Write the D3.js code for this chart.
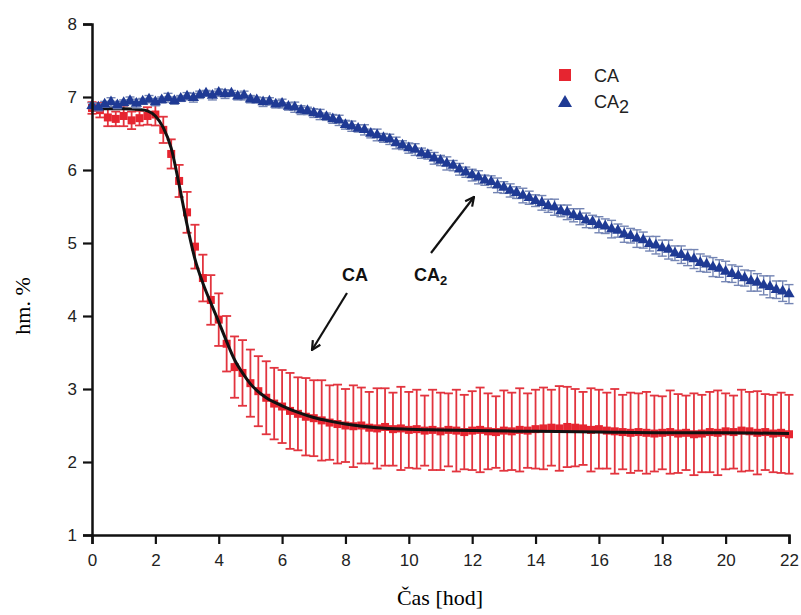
<!DOCTYPE html>
<html>
<head>
<meta charset="utf-8">
<script src="https://cdn.jsdelivr.net/npm/d3@7"></script>
<style>
    body { margin: 0; background: #fff; }
    svg { display: block; }
</style>
</head>
<body>
<div id="chart"></div>
<script>
// CA (red): one sample every 0.25 h
var caStep = 0.25;
var caValues = [6.85, 6.82, 6.72, 6.70, 6.74, 6.68, 6.71, 6.74,
    6.76, 6.55, 6.22, 5.85, 5.42, 4.95, 4.52, 4.22, 3.95, 3.62, 3.30, 3.22,
    3.08, 2.97, 2.88, 2.80, 2.76, 2.70, 2.66, 2.62, 2.60, 2.57, 2.54, 2.52,
    2.50, 2.49, 2.50, 2.47, 2.46, 2.48, 2.45, 2.46, 2.44, 2.45, 2.43, 2.44,
    2.42, 2.44, 2.43, 2.41, 2.43, 2.44, 2.42, 2.41, 2.43, 2.42, 2.44, 2.43,
    2.45, 2.46, 2.47, 2.46, 2.48, 2.47, 2.46, 2.44, 2.45, 2.43, 2.42, 2.41,
    2.40, 2.41, 2.40, 2.39, 2.40, 2.41, 2.39, 2.40, 2.38, 2.39, 2.41, 2.40,
    2.42, 2.41, 2.43, 2.42, 2.40, 2.41, 2.39, 2.40, 2.38];
var caErrors = [0.08, 0.10, 0.12, 0.10, 0.14, 0.12, 0.10, 0.12,
    0.15, 0.18, 0.20, 0.22, 0.28, 0.30, 0.32, 0.34, 0.36, 0.38, 0.42, 0.45,
    0.46, 0.48, 0.50, 0.49, 0.50, 0.52, 0.50, 0.53, 0.52, 0.55, 0.51, 0.54,
    0.50, 0.56, 0.52, 0.49, 0.55, 0.53, 0.50, 0.57, 0.52, 0.54, 0.48, 0.55,
    0.53, 0.50, 0.56, 0.51, 0.54, 0.58, 0.52, 0.49, 0.55, 0.53, 0.57, 0.51,
    0.54, 0.56, 0.52, 0.58, 0.55, 0.53, 0.50, 0.57, 0.54, 0.52, 0.58, 0.51,
    0.55, 0.53, 0.56, 0.52, 0.50, 0.57, 0.54, 0.51, 0.56, 0.53, 0.55, 0.58,
    0.52, 0.50, 0.56, 0.54, 0.57, 0.52, 0.53, 0.55, 0.54];

// CA2 (blue): one sample every 0.2 h
var ca2Step = 0.2;
var ca2Values = [6.88, 6.86, 6.90, 6.93, 6.89, 6.92, 6.95, 6.91, 6.94, 6.97,
    6.93, 6.96, 6.99, 6.95, 6.98, 7.01, 6.99, 7.03, 7.05, 7.02,
    7.06, 7.04, 7.05, 7.01, 7.02, 6.97, 6.96, 6.93, 6.94, 6.90,
    6.91, 6.87, 6.86, 6.82, 6.81, 6.78, 6.76, 6.73, 6.70, 6.68,
    6.62, 6.60, 6.57, 6.55, 6.50, 6.48, 6.44, 6.42, 6.37, 6.34,
    6.30, 6.28, 6.23, 6.21, 6.16, 6.13, 6.09, 6.06, 6.01, 5.97,
    5.93, 5.90, 5.86, 5.84, 5.79, 5.76, 5.72, 5.69, 5.65, 5.62,
    5.58, 5.55, 5.51, 5.49, 5.44, 5.42, 5.38, 5.36, 5.31, 5.29,
    5.25, 5.23, 5.19, 5.17, 5.12, 5.10, 5.06, 5.04, 4.99, 4.97,
    4.93, 4.91, 4.86, 4.84, 4.80, 4.78, 4.73, 4.71, 4.67, 4.65,
    4.61, 4.58, 4.55, 4.52, 4.48, 4.46, 4.42, 4.40, 4.36, 4.34, 4.30];
var ca2Errors = [0.04, 0.05, 0.04, 0.06, 0.05, 0.04, 0.05, 0.06, 0.04, 0.05,
    0.05, 0.04, 0.06, 0.05, 0.04, 0.05, 0.06, 0.05, 0.04, 0.06,
    0.05, 0.06, 0.04, 0.05, 0.06, 0.05, 0.04, 0.06, 0.05, 0.05,
    0.06, 0.05, 0.07, 0.06, 0.05, 0.06, 0.07, 0.05, 0.06, 0.07,
    0.06, 0.07, 0.05, 0.07, 0.06, 0.08, 0.06, 0.07, 0.08, 0.06,
    0.07, 0.08, 0.07, 0.06, 0.08, 0.07, 0.09, 0.07, 0.08, 0.07,
    0.08, 0.09, 0.07, 0.08, 0.10, 0.08, 0.09, 0.08, 0.10, 0.09,
    0.08, 0.10, 0.09, 0.11, 0.08, 0.10, 0.09, 0.11, 0.10, 0.09,
    0.11, 0.10, 0.12, 0.09, 0.11, 0.10, 0.12, 0.11, 0.10, 0.12,
    0.11, 0.13, 0.10, 0.12, 0.11, 0.13, 0.12, 0.11, 0.13, 0.12,
    0.14, 0.12, 0.13, 0.11, 0.14, 0.12, 0.13, 0.15, 0.12, 0.14, 0.13];

// fitted curve for CA
var fitTimes = [0, 1, 1.5, 1.75, 2, 2.25, 2.5, 2.75, 3, 3.25, 3.5, 3.75, 4, 4.25, 4.5,
    4.75, 5, 5.5, 6, 6.5, 7, 7.5, 8, 9, 10, 11, 12, 14, 16, 18, 20, 22];
var fitValues = [6.84, 6.84, 6.83, 6.81, 6.74, 6.58, 6.30, 5.80, 5.25, 4.78, 4.45, 4.18, 3.92, 3.65, 3.40,
    3.22, 3.07, 2.88, 2.77, 2.68, 2.61, 2.56, 2.52, 2.47, 2.45, 2.44, 2.43, 2.42, 2.41, 2.40, 2.40, 2.39];

var xTicks = [0, 2, 4, 6, 8, 10, 12, 14, 16, 18, 20, 22];
var yTicks = [1, 2, 3, 4, 5, 6, 7, 8];
var xLabel = 'Čas [hod]';
var yLabel = 'hm. %';

var width = 801, height = 615;
var red = '#e62530', redBar = '#e2343e', blue = '#1f3a94', blueBar = '#7485b4';
var sans = 'Arial, "Liberation Sans", Helvetica, sans-serif';
var serif = '"Times New Roman", "Liberation Serif", serif';

var svg = d3.select('#chart').append('svg')
    .attr('width', width)
    .attr('height', height);

var x = d3.scaleLinear().domain([0, 22]).range([92, 789]);
var y = d3.scaleLinear().domain([1, 8]).range([535, 24]);

function toPoints(values, errors, step) {
    return values.map(function(v, i) {
        return { t: i * step, v: v, e: errors[i] };
    });
}
var caData = toPoints(caValues, caErrors, caStep);
var ca2Data = toPoints(ca2Values, ca2Errors, ca2Step);

function errorBars(g, data, color, cap, strokeW) {
    var bars = g.selectAll('g').data(data).enter().append('g')
        .attr('stroke', color)
        .attr('stroke-width', strokeW);
    bars.append('line')
        .attr('x1', function(d) { return x(d.t); })
        .attr('x2', function(d) { return x(d.t); })
        .attr('y1', function(d) { return y(d.v + d.e); })
        .attr('y2', function(d) { return y(d.v - d.e); });
    bars.append('line')
        .attr('x1', function(d) { return x(d.t) - cap; })
        .attr('x2', function(d) { return x(d.t) + cap; })
        .attr('y1', function(d) { return y(d.v + d.e); })
        .attr('y2', function(d) { return y(d.v + d.e); });
    bars.append('line')
        .attr('x1', function(d) { return x(d.t) - cap; })
        .attr('x2', function(d) { return x(d.t) + cap; })
        .attr('y1', function(d) { return y(d.v - d.e); })
        .attr('y2', function(d) { return y(d.v - d.e); });
}

// CA series
errorBars(svg.append('g'), caData, redBar, 4.5, 1.8);
svg.append('g').selectAll('rect').data(caData).enter().append('rect')
    .attr('x', function(d) { return x(d.t) - 4; })
    .attr('y', function(d) { return y(d.v) - 4; })
    .attr('width', 8)
    .attr('height', 8)
    .attr('fill', red);

// fit line
var fitLine = d3.line()
    .x(function(d) { return x(d[0]); })
    .y(function(d) { return y(d[1]); })
    .curve(d3.curveMonotoneX);
svg.append('path')
    .datum(fitTimes.map(function(t, i) { return [t, fitValues[i]]; }))
    .attr('d', fitLine)
    .attr('fill', 'none')
    .attr('stroke', '#111')
    .attr('stroke-width', 3);

// CA2 series
errorBars(svg.append('g'), ca2Data, blueBar, 4.5, 1.4);
var tri = d3.symbol().type(d3.symbolTriangle).size(55);
svg.append('g').selectAll('path').data(ca2Data).enter().append('path')
    .attr('d', tri)
    .attr('transform', function(d) { return 'translate(' + x(d.t) + ',' + y(d.v) + ')'; })
    .attr('fill', blue);

// axes
var xAxis = svg.append('g').attr('transform', 'translate(0,' + y(1) + ')');
xAxis.call(d3.axisBottom(x).tickValues(d3.range(0, 23, 1)).tickSize(5).tickFormat(''));
xAxis.call(d3.axisBottom(x).tickValues(xTicks).tickSize(9).tickPadding(10));
var yAxis = svg.append('g').attr('transform', 'translate(' + x(0) + ',0)');
yAxis.call(d3.axisLeft(y).tickValues(d3.range(1, 8.01, 0.5)).tickSize(5).tickFormat(''));
yAxis.call(d3.axisLeft(y).tickValues(yTicks).tickSize(9).tickPadding(6).tickFormat(d3.format('d')));

svg.selectAll('.domain').attr('stroke', '#111').attr('stroke-width', 2.5);
svg.selectAll('.tick line').attr('stroke', '#111').attr('stroke-width', 2.2);
svg.selectAll('.tick text')
    .attr('font-family', sans)
    .attr('font-size', 17)
    .attr('fill', '#222');

// axis titles
svg.append('text')
    .attr('x', 440)
    .attr('y', 605)
    .attr('text-anchor', 'middle')
    .attr('font-family', serif)
    .attr('font-size', 22)
    .text(xLabel);
svg.append('text')
    .attr('transform', 'translate(30,306) rotate(-90)')
    .attr('text-anchor', 'middle')
    .attr('font-family', serif)
    .attr('font-size', 22)
    .text(yLabel);

// legend
var legend = svg.append('g').attr('font-family', sans).attr('font-size', 18).attr('fill', '#222');
legend.append('rect').attr('x', 559).attr('y', 69).attr('width', 12).attr('height', 12).attr('fill', red);
legend.append('text').attr('x', 594).attr('y', 82).text('CA');
legend.append('path')
    .attr('d', d3.symbol().type(d3.symbolTriangle).size(85))
    .attr('transform', 'translate(565,103)')
    .attr('fill', blue);
var lt = legend.append('text').attr('x', 594).attr('y', 108).text('CA');
lt.append('tspan').attr('dy', 5).text('2');

// annotations with arrows
svg.append('defs').append('marker')
    .attr('id', 'head')
    .attr('viewBox', '0 0 10 10')
    .attr('refX', 9).attr('refY', 5)
    .attr('markerWidth', 5).attr('markerHeight', 5)
    .attr('orient', 'auto')
    .append('path')
    .attr('d', 'M1,1 L9,5 L1,9')
    .attr('fill', 'none')
    .attr('stroke', '#111')
    .attr('stroke-width', 2);

var notes = svg.append('g').attr('font-family', sans).attr('font-weight', 'bold').attr('font-size', 18).attr('fill', '#111');
notes.append('text').attr('x', 355).attr('y', 281).attr('text-anchor', 'middle').text('CA');
var n2 = notes.append('text').attr('x', 414).attr('y', 281).text('CA');
n2.append('tspan').attr('dy', 4).attr('font-size', 13).text('2');

svg.append('line')
    .attr('x1', 347).attr('y1', 293).attr('x2', 312).attr('y2', 350)
    .attr('stroke', '#111').attr('stroke-width', 2.2)
    .attr('marker-end', 'url(#head)');
svg.append('line')
    .attr('x1', 431).attr('y1', 253).attr('x2', 474).attr('y2', 197)
    .attr('stroke', '#111').attr('stroke-width', 2.2)
    .attr('marker-end', 'url(#head)');
</script>
</body>
</html>
